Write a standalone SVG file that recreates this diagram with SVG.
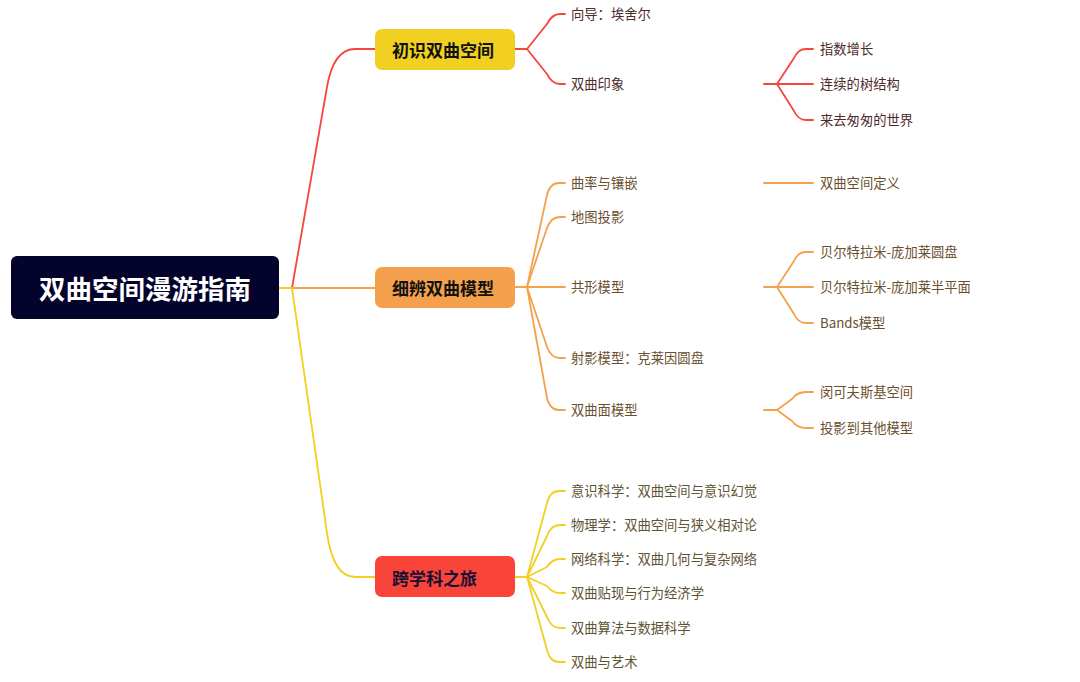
<svg xmlns="http://www.w3.org/2000/svg" width="1080" height="682" viewBox="0 0 1080 682">
<style>
.c{fill:none;stroke-width:1.8;stroke-linecap:round;stroke-linejoin:round}
.r{stroke:#f5463c}
.o{stroke:#f5a04c}
.y{stroke:#f2d022}
.t{font-family:"Noto Sans CJK SC","Noto Sans",sans-serif;font-size:13.3px;dominant-baseline:central}
.tr{fill:#4e2a2a}
.to{fill:#6b4f2f}
.ty{fill:#5e5434}
.n{font-family:"Noto Sans CJK SC","Noto Sans",sans-serif;font-size:17px;font-weight:bold;dominant-baseline:central}
</style>
<rect width="1080" height="682" fill="#ffffff"/>
<g id="connectors">
<path class="c y" d="M279,288 L292,288"/>
<path class="c r" d="M292,288 L327,87 Q333.6,49 355,49 L376,49"/>
<path class="c o" d="M292,288 L376,288"/>
<path class="c y" d="M292,288 L327,533 Q333.3,577 355,577 L376,577"/>
<path class="c r" d="M515,49 L527,49"/>
<path class="c r" d="M527,49 L547,24 Q552,14 560,14 L565,14"/>
<path class="c r" d="M527,49 L547,74 Q552,84 560,84 L565,84"/>
<path class="c r" d="M764,84 L777,84"/>
<path class="c r" d="M777,84 L794,58 Q798,49 806,49 L813,49"/>
<path class="c r" d="M777,84 L813,84"/>
<path class="c r" d="M777,84 L794,111 Q798,120 806,120 L813,120"/>
<path class="c o" d="M515,287 L527,287"/>
<path class="c o" d="M527,287 L547,195 Q550,183 559,183 L565,183"/>
<path class="c o" d="M527,287 L547,228 Q551,217 560,217 L565,217"/>
<path class="c o" d="M527,287 L565,287"/>
<path class="c o" d="M527,287 L547,347 Q551,358 560,358 L565,358"/>
<path class="c o" d="M527,287 L547,398 Q550,410 559,410 L565,410"/>
<path class="c o" d="M764,183 L813,183"/>
<path class="c o" d="M764,287 L777,287"/>
<path class="c o" d="M777,287 L794,261 Q798,252 806,252 L813,252"/>
<path class="c o" d="M777,287 L813,287"/>
<path class="c o" d="M777,287 L794,314 Q798,323 806,323 L813,323"/>
<path class="c o" d="M764,410 L777,410"/>
<path class="c o" d="M777,410 L792,399 Q797,392 806,392 L813,392"/>
<path class="c o" d="M777,410 L792,421 Q797,428 806,428 L813,428"/>
<path class="c y" d="M515,577 L527,577"/>
<path class="c y" d="M527,577 L547,503 Q550,491 559,491 L565,491"/>
<path class="c y" d="M527,577 L547,536 Q551,525 560,525 L565,525"/>
<path class="c y" d="M527,577 L547,567 Q552,559 560,559 L565,559"/>
<path class="c y" d="M527,577 L547,586 Q552,593 560,593 L565,593"/>
<path class="c y" d="M527,577 L547,617 Q551,628 560,628 L565,628"/>
<path class="c y" d="M527,577 L547,650 Q550,662 559,662 L565,662"/>
</g>
<g id="root">
<rect x="11" y="256" width="268" height="63" rx="6" fill="#03032b"/>
<text x="145" y="287.5" text-anchor="middle" fill="#ffffff" font-family="'Noto Sans CJK SC','Noto Sans',sans-serif" font-size="26.5" font-weight="bold" dominant-baseline="central">双曲空间漫游指南</text>
</g>
<g id="node-b1">
<rect x="375" y="29" width="140" height="41" rx="7" fill="#f2d022"/>
<text class="n" x="392" y="49" fill="#111111">初识双曲空间</text>
</g>
<g id="node-b2">
<rect x="375" y="267" width="140" height="41" rx="7" fill="#f5a04c"/>
<text class="n" x="392" y="287" fill="#111111">细辨双曲模型</text>
</g>
<g id="node-b3">
<rect x="375" y="556" width="140" height="41" rx="7" fill="#f9443a"/>
<text class="n" x="392" y="577" fill="#1a1033">跨学科之旅</text>
</g>
<g id="leaves-b1">
<text class="t tr" x="571" y="13.5">向导：埃舍尔</text>
<text class="t tr" x="571" y="83.5">双曲印象</text>
<text class="t tr" x="820" y="48.5">指数增长</text>
<text class="t tr" x="820" y="83.5">连续的树结构</text>
<text class="t tr" x="820" y="119.5">来去匆匆的世界</text>
</g>
<g id="leaves-b2">
<text class="t to" x="571" y="182.5">曲率与镶嵌</text>
<text class="t to" x="571" y="216.5">地图投影</text>
<text class="t to" x="571" y="286.5">共形模型</text>
<text class="t to" x="571" y="357.5">射影模型：克莱因圆盘</text>
<text class="t to" x="571" y="409.5">双曲面模型</text>
<text class="t to" x="820" y="182.5">双曲空间定义</text>
<text class="t to" x="820" y="251.5">贝尔特拉米-庞加莱圆盘</text>
<text class="t to" x="820" y="286.5">贝尔特拉米-庞加莱半平面</text>
<text class="t to" x="820" y="322.5">Bands模型</text>
<text class="t to" x="820" y="391.5">闵可夫斯基空间</text>
<text class="t to" x="820" y="427.5">投影到其他模型</text>
</g>
<g id="leaves-b3">
<text class="t ty" x="571" y="490.5">意识科学：双曲空间与意识幻觉</text>
<text class="t ty" x="571" y="524.5">物理学：双曲空间与狭义相对论</text>
<text class="t ty" x="571" y="558.5">网络科学：双曲几何与复杂网络</text>
<text class="t ty" x="571" y="592.5">双曲贴现与行为经济学</text>
<text class="t ty" x="571" y="627.5">双曲算法与数据科学</text>
<text class="t ty" x="571" y="661.5">双曲与艺术</text>
</g>
</svg>
